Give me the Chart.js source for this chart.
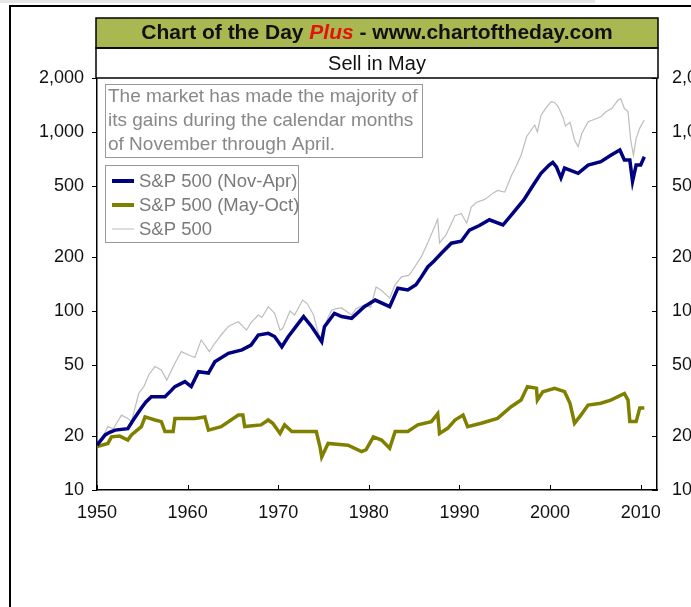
<!DOCTYPE html>
<html>
<head>
<meta charset="utf-8">
<title>Sell in May</title>
<script src="https://cdn.jsdelivr.net/npm/chart.js@4.4.0/dist/chart.umd.min.js"></script>
<style>
  html, body { margin: 0; padding: 0; background: #fff; }
  #wrap { position: relative; width: 691px; height: 607px; }
</style>
</head>
<body>
<div id="wrap"><canvas id="chart"></canvas></div>
<script>
// Sell in May - S&P 500 split in Nov-Apr and May-Oct halves, log scale

const yearTicks = [1950, 1960, 1970, 1980, 1990, 2000, 2010];
const valueTicks = [10, 20, 50, 100, 200, 500, 1000, 2000];

const seriesNames = ['S&P 500 (Nov-Apr)', 'S&P 500 (May-Oct)', 'S&P 500'];
const noteLines = [
    'The market has made the majority of',
    'its gains during the calendar months',
    'of November through April.'
];

const novAprYears = [1950, 1950.9, 1951.4, 1952, 1953.4, 1954, 1954.9, 1955.4, 1956, 1957.5,
    1958.2, 1958.6, 1959.7, 1960.4, 1961.2, 1962.3, 1963, 1964.5, 1966, 1967,
    1967.8, 1968.9, 1969.6, 1970.4, 1971.1, 1972.2, 1972.8, 1973.7, 1974.8, 1975.1,
    1976.2, 1977, 1978.1, 1979.5, 1980.7, 1982.3, 1983.2, 1984.3, 1985.2, 1985.8,
    1986.5, 1987.2, 1988, 1989.1, 1990.2, 1991.1, 1992.2, 1993.3, 1994.8, 1995.9,
    1997.1, 1998.2, 1999, 1999.9, 2000.3, 2000.7, 2001.2, 2001.6, 2003.1, 2004.2,
    2005.6, 2006.7, 2007.7, 2008.2, 2008.8, 2009.1, 2009.5, 2010, 2010.4];
const novAprValues = [17.8, 20.3, 21, 21.6, 22, 24.6, 28.7, 31, 33.2, 33.2,
    36, 37.8, 40.3, 37.8, 45.8, 45, 52, 58, 60.6, 64.5,
    73.4, 75, 72, 63.1, 71.8, 85, 93, 81.6, 67.4, 81.6,
    97, 93, 91, 105.7, 115, 105.7, 134, 131, 140, 155,
    176, 190, 210, 239, 245, 283, 300, 323, 302, 352,
    417, 510, 587, 653, 676, 638, 553, 628, 587, 653,
    682, 741, 792, 696, 696, 529, 653, 653, 726];

const mayOctYears = [1950, 1951.2, 1951.6, 1952.5, 1953.4, 1953.8, 1954.9, 1955.3, 1956.4, 1957.1,
    1957.5, 1958.4, 1958.6, 1960.8, 1961.9, 1962.3, 1963.7, 1965.6, 1966.1, 1966.3,
    1968.1, 1968.9, 1969.4, 1970.2, 1970.7, 1971.5, 1974.2, 1974.6, 1974.8, 1975.5,
    1977.7, 1979.2, 1979.7, 1980.5, 1981.4, 1982.3, 1982.9, 1984.3, 1985.4, 1986.9,
    1987.6, 1987.8, 1988.7, 1989.5, 1990.4, 1990.9, 1992.4, 1994.2, 1995.7, 1996.8,
    1997.5, 1998.5, 1998.6, 1999.2, 2000.5, 2001.6, 2002.2, 2002.7, 2003.4, 2004.2,
    2005.6, 2006.7, 2008.2, 2008.6, 2008.8, 2009.5, 2009.9, 2010.4];
const mayOctValues = [17.5, 18.2, 19.8, 20, 19, 20.3, 22.6, 25.6, 24.6, 24.1,
    21.2, 21.2, 25.1, 25.1, 25.6, 21.6, 22.6, 26.2, 26.2, 22.6,
    23.1, 24.6, 23.6, 20.7, 23.1, 21.2, 21.2, 17.5, 15.3, 18.2,
    17.8, 16.4, 16.8, 19.8, 19, 17.1, 21.2, 21.2, 23.1, 24.1,
    26.7, 20.7, 22.1, 24.6, 26.2, 22.6, 23.6, 25.1, 29.2, 31.8,
    37.8, 37, 31.8, 35.4, 37, 35.4, 30.5, 23.6, 26.2, 29.8,
    30.5, 31.8, 34.6, 31.8, 24.1, 24.1, 28.7, 28.7];

const spYears = [1950, 1950.5, 1951.2, 1951.8, 1952.7, 1953.4, 1953.8, 1954.6, 1955.2, 1955.7,
    1956.4, 1957.1, 1957.7, 1958.6, 1959.3, 1960.1, 1960.8, 1961.5, 1962.4, 1963,
    1963.7, 1964.5, 1965.2, 1965.6, 1966.5, 1967, 1967.8, 1968.2, 1968.9, 1969.6,
    1970.2, 1970.5, 1971.3, 1971.8, 1972.7, 1973.2, 1973.9, 1974.6, 1974.8, 1975.5,
    1975.9, 1976.4, 1977, 1978.1, 1978.6, 1979.5, 1980.2, 1980.8, 1981.4, 1982.3,
    1982.9, 1983.6, 1984.4, 1984.7, 1985.8, 1986.5, 1987.6, 1987.8, 1988.5, 1989.5,
    1990.2, 1990.8, 1991.3, 1991.9, 1992.8, 1993.7, 1994.2, 1995, 1995.7, 1996.3,
    1996.8, 1997.4, 1998.3, 1998.6, 1999, 1999.5, 2000.1, 2000.5, 2000.9, 2001.4,
    2001.7, 2002.2, 2002.7, 2003.1, 2003.5, 2004.2, 2005, 2005.6, 2006.2, 2006.8,
    2007.5, 2007.8, 2008.2, 2008.6, 2008.9, 2009.2, 2009.5, 2009.9, 2010.4];
const spValues = [17.5, 19, 22.6, 22, 26.2, 25.1, 24, 34.6, 38, 43.9,
    48.9, 46.8, 41.1, 51.1, 59.3, 56.7, 55, 68.9, 59.3, 66,
    73.4, 82, 85.4, 87, 78.2, 86, 94.9, 92, 105.7, 97,
    78, 80, 100, 95, 115, 110, 95, 68.9, 75, 92,
    101, 103, 104, 95, 103, 108, 105, 136, 130, 118,
    140, 155, 158, 165, 201, 240, 325, 240, 265, 340,
    350, 309, 380, 405, 420, 455, 471, 461, 565, 650,
    741, 940, 1093, 1000, 1240, 1350, 1475, 1460, 1380, 1216,
    1080, 1130, 900, 826, 980, 1139, 1180, 1216, 1300, 1350,
    1506, 1530, 1350, 1301, 900, 741, 920, 1050, 1165];

function toPoints(xs, ys) {
    return xs.map((x, i) => ({ x: x, y: ys[i] }));
}

function formatValue(v) {
    return v.toLocaleString('en-US');
}

const tickFont = { family: 'Liberation Sans, Arial, sans-serif', size: 18 };
const AREA = { left: 97, right: 657, top: 78, bottom: 490 };

// frame, title boxes, note and legend
const decorPlugin = {
    id: 'decor',
    beforeDraw(chart) {
        const ctx = chart.ctx;
        ctx.save();
        ctx.fillStyle = '#e6e6e6';
        ctx.fillRect(0, 0, 595, 3);
        ctx.strokeStyle = '#000';
        ctx.lineWidth = 2;
        ctx.beginPath();
        ctx.moveTo(10, 607);
        ctx.lineTo(10, 6);
        ctx.lineTo(691, 6);
        ctx.stroke();
        ctx.restore();
    },
    afterDraw(chart) {
        const ctx = chart.ctx;
        const area = chart.chartArea;
        const x = chart.scales.x;
        const yl = chart.scales.y;
        ctx.save();

        // tick marks
        ctx.strokeStyle = '#000';
        ctx.lineWidth = 1;
        ctx.beginPath();
        yearTicks.forEach(t => {
            const px = Math.round(x.getPixelForValue(t)) + 0.5;
            ctx.moveTo(px, area.bottom);
            ctx.lineTo(px, area.bottom - 5);
        });
        valueTicks.forEach(t => {
            const py = Math.round(yl.getPixelForValue(t)) + 0.5;
            ctx.moveTo(area.left - 5, py);
            ctx.lineTo(area.left, py);
            ctx.moveTo(area.right - 5, py);
            ctx.lineTo(area.right, py);
        });
        ctx.stroke();

        // title bar
        const bx = area.left - 1, bw = area.right - area.left + 2;
        ctx.fillStyle = '#a9b851';
        ctx.fillRect(bx, 18, bw, 30);
        ctx.fillStyle = '#fff';
        ctx.fillRect(bx, 48, bw, 30);
        ctx.strokeStyle = '#000';
        ctx.lineWidth = 1.5;
        ctx.strokeRect(bx, 18, bw, 30);
        ctx.strokeRect(bx, 48, bw, 30);

        const bold = 'bold 21px Liberation Sans, Arial, sans-serif';
        const boldIt = 'italic bold 21px Liberation Sans, Arial, sans-serif';
        const parts = [
            { t: 'Chart of the Day ', f: bold, c: '#111' },
            { t: 'Plus', f: boldIt, c: '#e3120b' },
            { t: ' - www.chartoftheday.com', f: bold, c: '#111' }
        ];
        let total = 0;
        parts.forEach(p => { ctx.font = p.f; p.w = ctx.measureText(p.t).width; total += p.w; });
        let cx = (area.left + area.right) / 2 - total / 2;
        ctx.textBaseline = 'middle';
        ctx.textAlign = 'left';
        parts.forEach(p => {
            ctx.font = p.f;
            ctx.fillStyle = p.c;
            ctx.fillText(p.t, cx, 33.5);
            cx += p.w;
        });

        ctx.font = '20px Liberation Sans, Arial, sans-serif';
        ctx.fillStyle = '#111';
        ctx.textAlign = 'center';
        ctx.fillText('Sell in May', (area.left + area.right) / 2, 64);

        // note box
        ctx.strokeStyle = '#999';
        ctx.lineWidth = 1;
        ctx.strokeRect(105.5, 84.5, 317, 73);
        ctx.font = '19px Liberation Sans, Arial, sans-serif';
        ctx.fillStyle = '#888';
        ctx.textAlign = 'left';
        noteLines.forEach((line, i) => ctx.fillText(line, 108, 97 + i * 24));

        // legend
        ctx.strokeRect(105.5, 165.5, 193, 77);
        ctx.font = '18.5px Liberation Sans, Arial, sans-serif';
        chart.data.datasets.forEach((ds, i) => {
            const ly = 181 + i * 24;
            ctx.strokeStyle = ds.borderColor;
            ctx.lineWidth = ds.borderWidth > 2 ? 4 : 1;
            ctx.beginPath();
            ctx.moveTo(112, ly);
            ctx.lineTo(134, ly);
            ctx.stroke();
            ctx.fillStyle = '#7a7a7a';
            ctx.fillText(ds.label, 139, ly + 1);
        });
        ctx.restore();
    }
};

document.addEventListener('DOMContentLoaded', function() {
    const ctx = document.getElementById('chart');
    new Chart(ctx, {
        type: 'line',
        data: {
            datasets: [{
                label: seriesNames[0],
                data: toPoints(novAprYears, novAprValues),
                borderColor: '#000080',
                borderWidth: 3.5,
                pointRadius: 0,
                tension: 0
            }, {
                label: seriesNames[1],
                data: toPoints(mayOctYears, mayOctValues),
                borderColor: '#808000',
                borderWidth: 3.5,
                pointRadius: 0,
                tension: 0
            }, {
                label: seriesNames[2],
                data: toPoints(spYears, spValues),
                borderColor: '#bdbdbd',
                borderWidth: 1.2,
                pointRadius: 0,
                tension: 0
            }]
        },
        options: {
            responsive: true,
            maintainAspectRatio: false,
            animation: false,
            layout: { padding: { top: AREA.top, left: 0, right: 0, bottom: 0 } },
            plugins: {
                legend: { display: false },
                tooltip: { enabled: false }
            },
            scales: {
                x: {
                    type: 'linear',
                    min: 1950,
                    max: 2011.8,
                    grid: { display: false, drawTicks: false },
                    border: { display: true, color: '#000', width: 1.5 },
                    afterBuildTicks: s => { s.ticks = yearTicks.map(v => ({ value: v })); },
                    afterFit: s => { s.height = 607 - AREA.bottom; },
                    ticks: {
                        font: tickFont,
                        color: '#111',
                        padding: 12,
                        maxRotation: 0,
                        callback: v => String(v)
                    }
                },
                y: {
                    type: 'logarithmic',
                    position: 'left',
                    min: 10,
                    max: 2000,
                    grid: { display: false, drawTicks: false },
                    border: { display: true, color: '#000', width: 1.5 },
                    afterBuildTicks: s => { s.ticks = valueTicks.map(v => ({ value: v })); },
                    afterFit: s => { s.width = AREA.left; },
                    ticks: { font: tickFont, color: '#111', padding: 13, callback: v => formatValue(v) }
                },
                y2: {
                    type: 'logarithmic',
                    position: 'right',
                    min: 10,
                    max: 2000,
                    grid: { display: false, drawTicks: false },
                    border: { display: true, color: '#000', width: 1.5 },
                    afterBuildTicks: s => { s.ticks = valueTicks.map(v => ({ value: v })); },
                    afterFit: s => { s.width = 691 - AREA.right; },
                    ticks: { font: tickFont, color: '#111', padding: 15, callback: v => formatValue(v) }
                }
            }
        },
        plugins: [decorPlugin]
    });
});
</script>
</body>
</html>
